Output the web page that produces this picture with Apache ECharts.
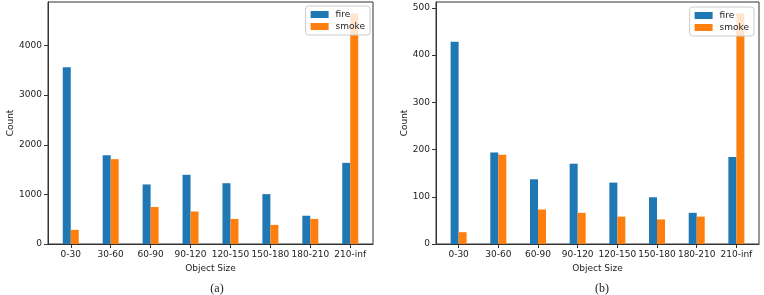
<!DOCTYPE html>
<html>
<head>
<meta charset="utf-8">
<script src="https://cdn.jsdelivr.net/npm/echarts@6/dist/echarts.min.js"></script>
<style>
  html, body { margin: 0; padding: 0; background: #fff; }
  #main { width: 764px; height: 295px; }
</style>
</head>
<body>
<div id="main"></div>
<script>
var categories = ['0-30', '30-60', '60-90', '90-120', '120-150', '150-180', '180-210', '210-inf'];
var fireA = [3560, 1790, 1200, 1395, 1225, 1005, 570, 1635];
var smokeA = [285, 1710, 745, 655, 505, 385, 505, 4645];
var fireB = [428, 194, 137, 170, 130, 99, 66, 184];
var smokeB = [25, 189, 73, 66, 58, 52, 58, 488];
var ticksA = [0, 1000, 2000, 3000, 4000];
var ticksB = [0, 100, 200, 300, 400, 500];

var FONT = 'DejaVu Sans';
var INK = '#222';
var BLUE = '#1f77b4';
var ORANGE = '#ff7f0e';

var catIdx = categories.map(function (c, i) { return i; });

function pairs(arr) {
	return arr.map(function (v, i) { return [i, v]; });
}

function yTop(a, b) {
	return Math.max(Math.max.apply(null, a), Math.max.apply(null, b)) * 1.05;
}

var grids = [
	{left: 48, top: 2, width: 325, height: 242, show: true, borderColor: '#333', borderWidth: 1},
	{left: 436, top: 2, width: 323, height: 242, show: true, borderColor: '#333', borderWidth: 1}
];

function xAxisFor(g) {
	return {
		type: 'value',
		gridIndex: g,
		min: -0.57,
		max: 7.57,
		name: 'Object Size',
		nameLocation: 'middle',
		nameGap: 18,
		nameTextStyle: {fontFamily: FONT, fontSize: 9, color: INK},
		splitLine: {show: false},
		axisLine: {onZero: false, lineStyle: {color: '#333'}},
		axisTick: {show: true, length: 4, customValues: catIdx, lineStyle: {color: '#333'}},
		axisLabel: {
			customValues: catIdx,
			margin: 6,
			fontFamily: FONT, fontSize: 9, color: INK,
			formatter: function (v) { return categories[Math.round(v)]; }
		}
	};
}

function yAxisFor(g, maxV, ticks, gap) {
	return {
		type: 'value',
		gridIndex: g,
		min: 0,
		max: maxV,
		name: 'Count',
		nameLocation: 'middle',
		nameGap: gap,
		nameTextStyle: {fontFamily: FONT, fontSize: 9, color: INK},
		splitLine: {show: false},
		axisLine: {show: true, onZero: false, lineStyle: {color: '#333'}},
		axisTick: {show: true, length: 4, customValues: ticks, lineStyle: {color: '#333'}},
		axisLabel: {
			customValues: ticks, margin: 6, fontFamily: FONT, fontSize: 9, color: INK,
			formatter: function (v) { return String(v); }
		}
	};
}

function barSeries(name, data, color, g) {
	return {
		name: name,
		type: 'bar',
		xAxisIndex: g,
		yAxisIndex: g,
		barWidth: 8,
		barGap: '0%',
		itemStyle: {color: color},
		data: pairs(data)
	};
}

function legendFor(right, top) {
	return {
		right: right,
		top: top,
		orient: 'vertical',
		data: [{name: 'fire', icon: 'rect'}, {name: 'smoke', icon: 'rect'}],
		itemWidth: 18,
		itemHeight: 7,
		itemGap: 3,
		padding: [4, 5, 4, 5],
		backgroundColor: 'rgba(255,255,255,0.8)',
		borderColor: '#ccc',
		borderWidth: 1,
		borderRadius: 3,
		selectedMode: false,
		textStyle: {fontFamily: FONT, fontSize: 9, color: INK, padding: [0, 0, 0, 2]}
	};
}

var option = {
	animation: false,
	backgroundColor: '#fff',
	title: [
		{text: '(a)', left: 212, top: 278, textAlign: 'center',
			textStyle: {fontFamily: 'Liberation Serif', fontSize: 12, fontWeight: 'normal', color: INK}},
		{text: '(b)', left: 597, top: 278, textAlign: 'center',
			textStyle: {fontFamily: 'Liberation Serif', fontSize: 12, fontWeight: 'normal', color: INK}}
	],
	grid: grids,
	legend: [legendFor(394, 6), legendFor(10, 7)],
	xAxis: [xAxisFor(0), xAxisFor(1)],
	yAxis: [yAxisFor(0, yTop(fireA, smokeA), ticksA, 29), yAxisFor(1, yTop(fireB, smokeB), ticksB, 26)],
	series: [
		barSeries('fire', fireA, BLUE, 0),
		barSeries('smoke', smokeA, ORANGE, 0),
		barSeries('fire', fireB, BLUE, 1),
		barSeries('smoke', smokeB, ORANGE, 1)
	]
};

var myChart = echarts.init(document.getElementById('main'));
myChart.setOption(option);
</script>
</body>
</html>
